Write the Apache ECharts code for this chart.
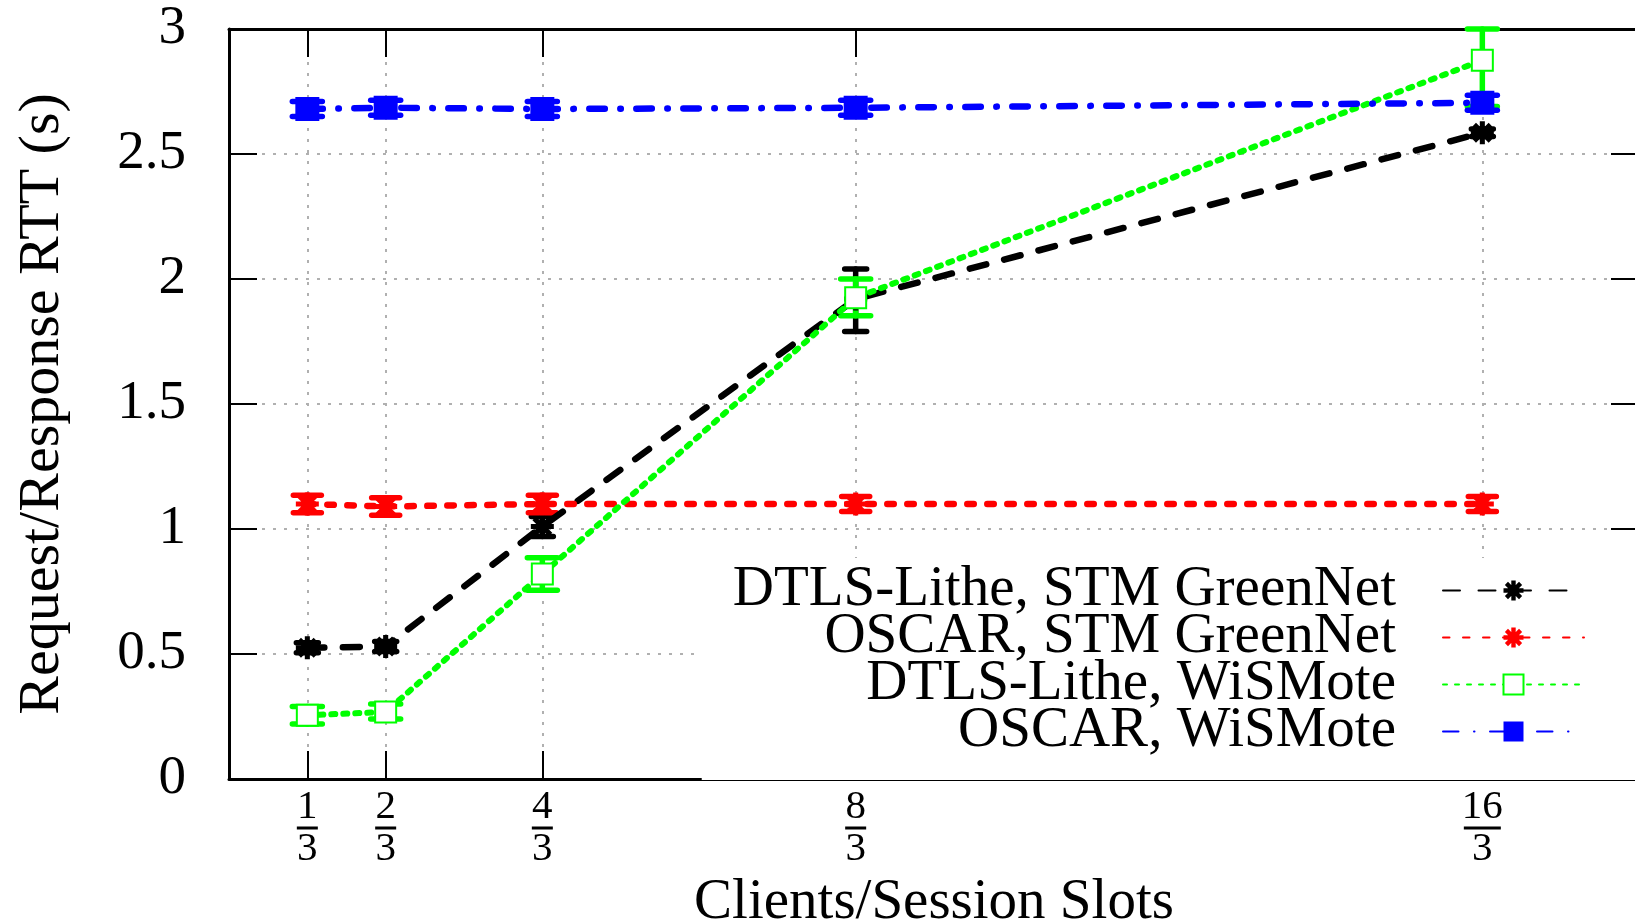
<!DOCTYPE html>
<html><head><meta charset="utf-8">
<script src="https://cdn.jsdelivr.net/npm/echarts@6/dist/echarts.min.js"></script>
<style>html,body{margin:0;padding:0;background:#fff}#c{width:1635px;height:920px}</style>
</head><body><div id="c"></div>
<script>
// ---- data ----
const xVals = [1/3, 2/3, 4/3, 8/3, 16/3];
const xTickNum = ['1', '2', '4', '8', '16'];
const xTickDen = ['3', '3', '3', '3', '3'];
const seriesNames = ['DTLS-Lithe, STM GreenNet', 'OSCAR, STM GreenNet', 'DTLS-Lithe, WiSMote', 'OSCAR, WiSMote'];

const dtlsStm     = [0.525, 0.53, 1.01, 1.92, 2.585];
const dtlsStmLow  = [0.505, 0.51, 0.97, 1.79, 2.57];
const dtlsStmHigh = [0.545, 0.55, 1.05, 2.04, 2.60];

const oscarStm     = [1.10, 1.09, 1.10, 1.10, 1.10];
const oscarStmLow  = [1.065, 1.055, 1.065, 1.07, 1.07];
const oscarStmHigh = [1.135, 1.125, 1.135, 1.13, 1.13];

const dtlsWis     = [0.255, 0.268, 0.82, 1.925, 2.875];
const dtlsWisLow  = [0.22, 0.24, 0.755, 1.853, 2.69];
const dtlsWisHigh = [0.29, 0.30, 0.885, 2.0, 3.0];

const oscarWis     = [2.68, 2.685, 2.68, 2.685, 2.705];
const oscarWisLow  = [2.65, 2.655, 2.65, 2.655, 2.675];
const oscarWisHigh = [2.71, 2.715, 2.71, 2.715, 2.735];

// ---- styling ----
const FONT = "'Liberation Serif', 'DejaVu Serif', serif";

function asteriskPath() {
  const angles = [0, 45, 90, 135];
  const L = 1, T = 0.22;
  let d = '';
  angles.forEach(a => {
    const r = a * Math.PI / 180, c = Math.cos(r), s = Math.sin(r);
    const pts = [[-L, -T], [L, -T], [L, T], [-L, T]].map(([x, y]) => [x * c - y * s, x * s + y * c]);
    d += 'M' + pts.map(p => p[0].toFixed(3) + ' ' + p[1].toFixed(3)).join(' L') + ' Z ';
  });
  return 'path://' + d;
}
const ASTER = asteriskPath();

function pts(vals) { return xVals.map((x, i) => [x, vals[i]]); }

function lineSeries(name, vals, color, width, dash, symbol, symbolSize, extraItem) {
  return {
    type: 'line', name, data: pts(vals), z: 4,
    symbol, symbolSize, showSymbol: true,
    lineStyle: { color, width, type: dash, cap: 'round' },
    itemStyle: Object.assign({ color }, extraItem || {}),
    emphasis: { disabled: true }, animation: false
  };
}

function errSeries(name, color, lows, highs, halfCap) {
  return {
    type: 'custom', name, z: 3, silent: true, animation: false,
    data: xVals.map((x, i) => [x, lows[i], highs[i]]),
    encode: { x: 0, y: [1, 2] },
    renderItem(params, api) {
      const x = api.value(0);
      const lo = api.coord([x, api.value(1)]);
      const hi = api.coord([x, api.value(2)]);
      const style = { stroke: color, lineWidth: 5.5, lineCap: 'round' };
      return { type: 'group', children: [
        { type: 'line', shape: { x1: lo[0], y1: lo[1], x2: hi[0], y2: hi[1] }, style },
        { type: 'line', shape: { x1: lo[0] - halfCap, y1: lo[1], x2: lo[0] + halfCap, y2: lo[1] }, style },
        { type: 'line', shape: { x1: hi[0] - halfCap, y1: hi[1], x2: hi[0] + halfCap, y2: hi[1] }, style }
      ] };
    }
  };
}

function xLabel(v) {
  const i = xVals.findIndex(t => Math.abs(t - v) < 1e-6);
  if (i < 0) return '';
  const b = xTickNum[i].length > 1 ? 'b2' : 'b1';
  return '{n|' + xTickNum[i] + '}\n{' + b + '| }\n{d|' + xTickDen[i] + '}';
}

const gridLine = { show: true, lineStyle: { color: '#b0b0b0', width: 2, type: [3, 8] } };
const axisLine = { show: true, onZero: false, lineStyle: { color: '#000', width: 3 } };
const tick = { show: true, inside: true, length: 28, lineStyle: { color: '#000', width: 2 } };

const chart = echarts.init(document.getElementById('c'), null, { renderer: 'canvas' });
chart.setOption({
  animation: false,
  backgroundColor: '#fff',
  grid: { left: 229, top: 29, right: -4, bottom: 141, containLabel: false, outerBoundsMode: 'none' },
  xAxis: [{
    type: 'value', min: 0, max: 6, position: 'bottom',
    axisLine, axisTick: Object.assign({ customValues: xVals }, tick),
    splitLine: gridLine,
    axisLabel: {
      customValues: xVals, formatter: xLabel, margin: 11, color: '#000', hideOverlap: false,
      rich: {
        n: { fontFamily: FONT, fontSize: 41, lineHeight: 34, color: '#000', align: 'center' },
        d: { fontFamily: FONT, fontSize: 41, lineHeight: 34, color: '#000', align: 'center' },
        b1: { width: 21, height: 3, lineHeight: 8, backgroundColor: '#000' },
        b2: { width: 37, height: 3, lineHeight: 8, backgroundColor: '#000' }
      }
    },
    name: 'Clients/Session Slots', nameLocation: 'middle', nameGap: 70,
    nameTextStyle: { fontFamily: FONT, fontSize: 57, color: '#000' }
  }, {
    type: 'value', min: 0, max: 6, position: 'top',
    axisLine, axisTick: Object.assign({ customValues: xVals }, tick),
    splitLine: { show: false }, axisLabel: { show: false }
  }],
  yAxis: [{
    type: 'value', min: 0, max: 3, interval: 0.5, position: 'left',
    axisLine, axisTick: tick, splitLine: gridLine,
    axisLabel: { fontFamily: FONT, fontSize: 55, color: '#000', margin: 43 },
    name: 'Request/Response RTT (s)', nameLocation: 'middle', nameGap: 157,
    nameTextStyle: { fontFamily: FONT, fontSize: 58, color: '#000' }
  }, {
    type: 'value', min: 0, max: 3, interval: 0.5, position: 'right',
    axisLine, axisTick: tick, splitLine: { show: false }, axisLabel: { show: false }
  }],
  legend: {
    data: seriesNames, orient: 'vertical', align: 'right',
    right: -4, top: 558, padding: [4, 54, 20, 31],
    backgroundColor: '#fff', itemGap: -10, itemWidth: 141, itemHeight: 25,
    selectedMode: false, z: 10,
    textStyle: { fontFamily: FONT, fontSize: 57, color: '#000', padding: [0, 42, 0, 0] }
  },
  series: [
    errSeries('e1', '#000000', dtlsStmLow, dtlsStmHigh, 11),
    errSeries('e2', '#ff0000', oscarStmLow, oscarStmHigh, 14),
    errSeries('e3', '#00ff00', dtlsWisLow, dtlsWisHigh, 15),
    errSeries('e4', '#0000ff', oscarWisLow, oscarWisHigh, 15),
    lineSeries(seriesNames[0], dtlsStm, '#000000', 6.5, [17, 18.5], ASTER, 23),
    lineSeries(seriesNames[1], oscarStm, '#ff0000', 6.5, [6.5, 13.5], ASTER, 23),
    lineSeries(seriesNames[2], dtlsWis, '#00ff00', 6, [4, 8], 'emptyRect', 21, { borderWidth: 5 }),
    lineSeries(seriesNames[3], oscarWis, '#0000ff', 6.5, [15.5, 15.5, 0.5, 15.5], 'rect', 24)
  ]
});
</script>
</body></html>
